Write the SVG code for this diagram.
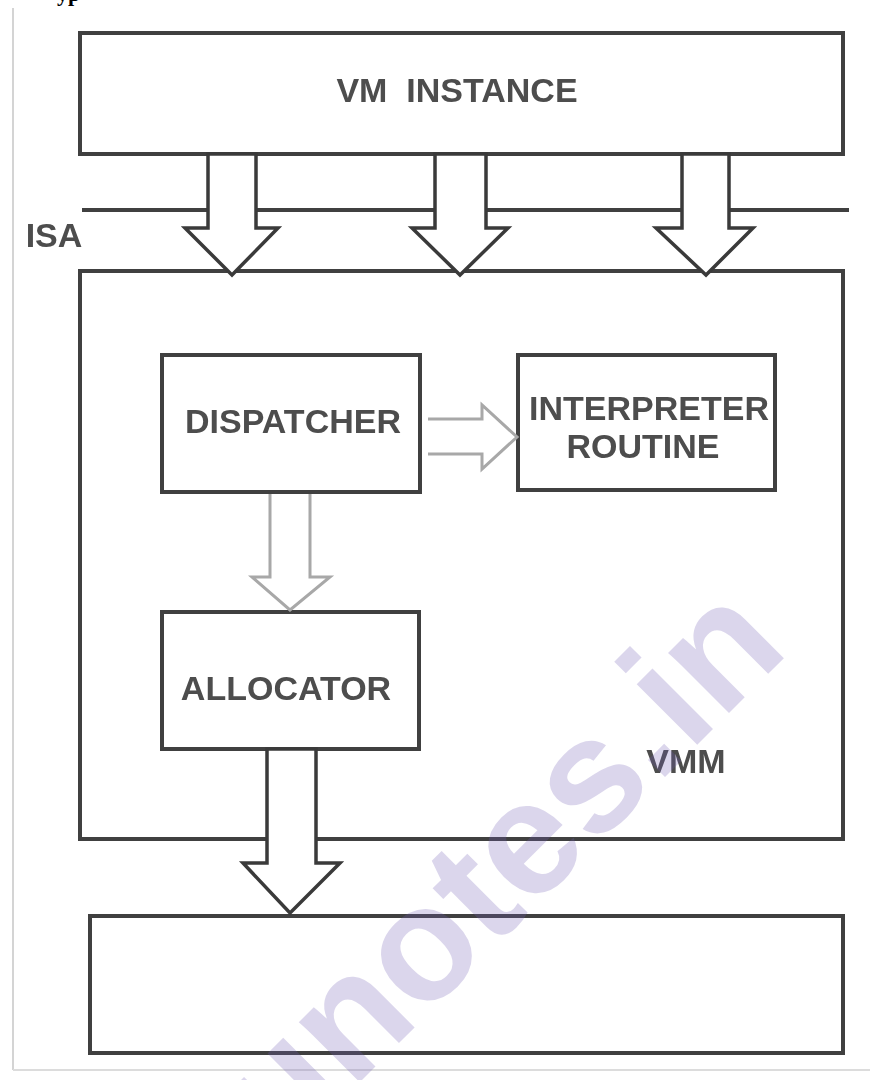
<svg xmlns="http://www.w3.org/2000/svg" width="870" height="1080" viewBox="0 0 870 1080">
<defs>
<filter id="soft" x="-5%" y="-20%" width="110%" height="140%"><feGaussianBlur stdDeviation="0.6"/></filter>
</defs>
<style>
.box{fill:#fff;stroke:#404040;stroke-width:4}
.lbl{font-family:"Liberation Sans",Arial,sans-serif;font-weight:bold;font-size:34px;fill:#4d4d4d;text-anchor:middle}
.arr{fill:#fff;stroke:#3a3a3a;stroke-width:3.5;stroke-linejoin:miter}
.arrl{fill:#fff;stroke:#a8a8a8;stroke-width:3;stroke-linejoin:miter}
.line{stroke:#404040;stroke-width:4;fill:none}
.wm{font-family:"Liberation Sans",Arial,sans-serif;font-weight:bold;font-size:162px;fill:#6f5bb5;fill-opacity:0.25}
</style>
<rect x="0" y="0" width="870" height="1080" fill="#fff"/>
<g id="frame">
<line x1="13" y1="8" x2="13" y2="1070" stroke="#d4d4d4" stroke-width="2"/>
<line x1="13" y1="1070" x2="870" y2="1070" stroke="#dcdcdc" stroke-width="2"/>
</g>
<text id="heading" x="57" y="1" font-family="'Liberation Serif',serif" font-weight="bold" font-size="22" fill="#000">yp</text>
<g id="isa">
<line class="line" x1="82" y1="210" x2="849" y2="210"/>
<text class="lbl" x="54" y="247" filter="url(#soft)">ISA</text>
</g>
<g id="vm-instance">
<rect class="box" x="80" y="33" width="763" height="121"/>
<text class="lbl" x="457" y="102" font-size="35" filter="url(#soft)" xml:space="preserve">VM  INSTANCE</text>
</g>
<g id="vmm">
<rect class="box" x="80" y="271" width="763" height="568"/>
<text class="lbl" x="686" y="773" filter="url(#soft)">VMM</text>
</g>
<g id="dispatcher">
<rect class="box" x="162" y="355" width="258" height="137"/>
<text class="lbl" x="293" y="433" filter="url(#soft)">DISPATCHER</text>
</g>
<g id="interpreter-routine">
<rect class="box" x="518" y="355" width="257" height="135"/>
<text class="lbl" x="649" y="420" font-size="31" filter="url(#soft)">INTERPRETER</text>
<text class="lbl" x="643" y="458" font-size="31" filter="url(#soft)">ROUTINE</text>
</g>
<g id="allocator">
<rect class="box" x="162" y="612" width="257" height="137"/>
<text class="lbl" x="286" y="700" filter="url(#soft)">ALLOCATOR</text>
</g>
<g id="hardware">
<rect class="box" x="90" y="916" width="753" height="137"/>
</g>
<g id="connectors">
<polygon class="arr" points="208,154 256,154 256,228 278,228 232,275 185,228 208,228"/>
<polygon class="arr" points="435,154 486,154 486,228 508,228 460,275 412,228 435,228"/>
<polygon class="arr" points="682,154 729,154 729,228 753,228 706,275 656,228 682,228"/>
<path class="arrl" d="M428,419 H482 V405 L517,437 L482,469 V454 H428"/>
<path class="arrl" d="M270,494 V577 H252 L290,610 L330,577 H310 V494"/>
<polygon class="arr" points="267,749 316,749 316,863 340,863 290,913 243,863 267,863"/>
</g>
<text id="watermark" class="wm" transform="translate(180,1262) rotate(-45)">munotes.in</text>
</svg>
